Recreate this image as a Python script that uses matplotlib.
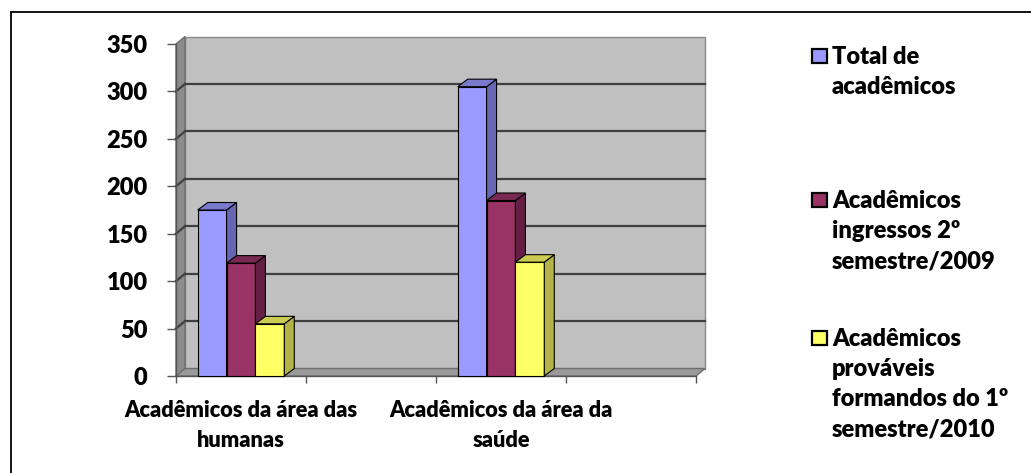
import numpy as np
import matplotlib
matplotlib.use("Agg")
import matplotlib.pyplot as plt
from matplotlib.patches import Rectangle, Polygon
from matplotlib.lines import Line2D

# ---- data ---------------------------------------------------------------
categories = ["Acadêmicos da área das\nhumanas", "Acadêmicos da área da\nsaúde"]
series_names = ["Total de\nacadêmicos",
                "Acadêmicos\ningressos 2º\nsemestre/2009",
                "Acadêmicos\nprováveis\nformandos do 1º\nsemestre/2010"]
total_academicos = [175, 305]
ingressos_2009 = [119, 185]
formandos_2010 = [55, 120]
y_ticks = [0, 50, 100, 150, 200, 250, 300, 350]

series_values = [total_academicos, ingressos_2009, formandos_2010]

# ---- style --------------------------------------------------------------
plt.rcParams['font.family'] = ['Lato', 'DejaVu Sans']
WEIGHT = "heavy"

face_colors = ["#9999FF", "#993366", "#FFFF66"]
side_colors = ["#6666B3", "#661F44", "#B3B347"]
top_colors = ["#7A7ACC", "#7A2952", "#CCCC52"]

W, H, DPI = 1031, 473, 100
fig = plt.figure(figsize=(W / DPI, H / DPI), dpi=DPI)

# front plane of the 3-D box in pixel terms
x0_px, x1_px = 176, 696
y0_px, y1_px = 376, 44
ax = fig.add_axes([x0_px / W, 1 - y0_px / H, (x1_px - x0_px) / W, (y0_px - y1_px) / H])
ax.set_xlim(-0.5, 3.5)
ax.set_ylim(0, 350)
ax.set_facecolor("none")
for s in ax.spines.values():
    s.set_visible(False)

# depth offsets in data units (walls/floor and bars)
px_per_cat = (x1_px - x0_px) / 4.0
px_per_val = (y0_px - y1_px) / 350.0
DX = 9.0 / px_per_cat
DY = 7.5 / px_per_val
BDX = 10.0 / px_per_cat
BDY = 7.5 / px_per_val

xl, xr, ymax = -0.5, 3.5, 350

# back wall
ax.add_patch(Rectangle((xl + DX, DY), xr - xl, ymax, facecolor="#C0C0C0",
                       edgecolor="#8A8A8A", lw=1.0, zorder=1, clip_on=False))
# left side wall
ax.add_patch(Polygon([(xl, 0), (xl + DX, DY), (xl + DX, ymax + DY), (xl, ymax)],
                     closed=True, facecolor="#8C8C8C", edgecolor="#6E6E6E",
                     lw=1.0, zorder=1, clip_on=False))
# floor
ax.add_patch(Polygon([(xl, 0), (xr, 0), (xr + DX, DY), (xl + DX, DY)],
                     closed=True, facecolor="#9A9A9A", edgecolor="#6E6E6E",
                     lw=1.0, zorder=1, clip_on=False))

# gridlines on back wall and side wall
for v in y_ticks[1:-1]:
    ax.add_line(Line2D([xl + DX, xr + DX], [v + DY, v + DY], color="#404040",
                       lw=1.6, zorder=2, clip_on=False))
    ax.add_line(Line2D([xl, xl + DX], [v, v + DY], color="#404040",
                       lw=1.6, zorder=2, clip_on=False))

# axis lines
ax.add_line(Line2D([xl, xl], [0, ymax], color="#555555", lw=1.0, zorder=3, clip_on=False))
ax.add_line(Line2D([xl, xr], [0, 0], color="#555555", lw=1.0, zorder=3, clip_on=False))

# bars with front, side and top faces
bar_w = 0.222
group_off = -1.5 * bar_w
positions = np.arange(len(categories)) * 2
z = 4
for j, xc in enumerate(positions):
    for i, vals in enumerate(series_values):
        v = vals[j]
        left = xc + group_off + i * bar_w
        right = left + bar_w
        ax.bar(left, v, width=bar_w, align="edge", color=face_colors[i],
               edgecolor="black", linewidth=0.8, zorder=z, clip_on=False)
        ax.add_patch(Polygon([(right, 0), (right + BDX, BDY), (right + BDX, v + BDY), (right, v)],
                             closed=True, facecolor=side_colors[i], edgecolor="black",
                             lw=0.8, zorder=z, clip_on=False))
        ax.add_patch(Polygon([(left, v), (right, v), (right + BDX, v + BDY), (left + BDX, v + BDY)],
                             closed=True, facecolor=top_colors[i], edgecolor="black",
                             lw=0.8, zorder=z, clip_on=False))
        z += 1

# ticks
ax.set_yticks(y_ticks)
ax.set_yticklabels([str(t) for t in y_ticks], fontsize=17, fontweight=WEIGHT)
ax.tick_params(axis="y", direction="out", length=6.5, width=1.0, color="#555555", pad=14)
ax.set_xticks(np.arange(-0.5, 3.6, 1.0))
ax.set_xticklabels([])
ax.tick_params(axis="x", direction="out", length=5, width=1.0, color="#555555")
ax.set_xticks(positions, minor=True)
ax.set_xticklabels(categories, minor=True, fontsize=15.7, fontweight=WEIGHT,
                   linespacing=1.55)
ax.tick_params(axis="x", which="minor", length=0, pad=17)

# legend drawn at the right
legend_centers = [56, 200, 338]
for i, name in enumerate(series_names):
    cy = legend_centers[i]
    fig.patches.append(Rectangle((812 / W, 1 - (cy + 7.5) / H), 14.5 / W, 14.5 / H,
                                 transform=fig.transFigure, facecolor=face_colors[i],
                                 edgecolor="black", lw=1.6))
    fig.text(832 / W, 1 - (cy - 10) / H, name, fontsize=17, fontweight=WEIGHT,
             va="top", ha="left", linespacing=1.45)

# outer border
fig.patches.append(Rectangle((11 / W, -0.05), 1.1, 1 - 12 / H + 0.05,
                             transform=fig.transFigure, facecolor="none",
                             edgecolor="black", lw=1.3))

fig.savefig("out.png", dpi=DPI)
